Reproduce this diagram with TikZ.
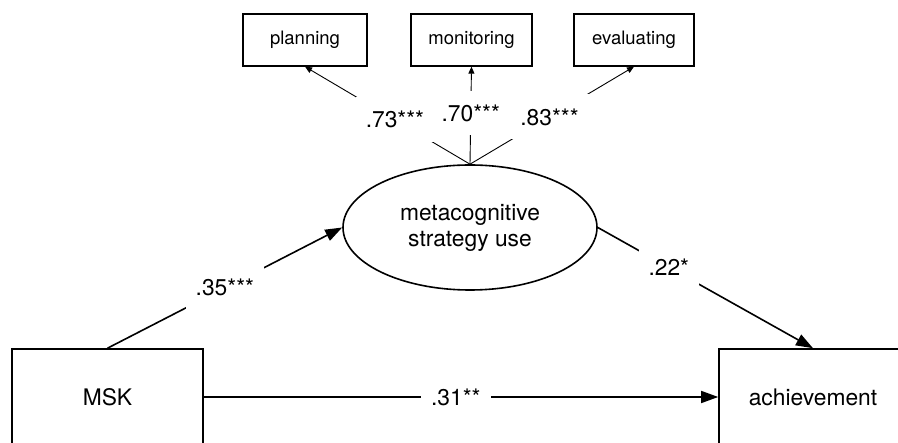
\documentclass[tikz,border=0pt]{standalone}
\usepackage{fontspec}
\setmainfont{TeX Gyre Heros}
\usetikzlibrary{arrows.meta,shapes.geometric}
\begin{document}
\begin{tikzpicture}[x=1pt,y=-1pt,
  bigbox/.style={draw,line width=1.6pt,rectangle,minimum width=#1,minimum height=96pt,inner sep=0pt,font=\fontsize{22.8}{27}\selectfont},
  smallbox/.style={draw,line width=1.3pt,rectangle,minimum width=#1,minimum height=52pt,inner sep=0pt,font=\fontsize{18.5}{22}\selectfont},
  latent/.style={ellipse,draw,line width=1.6pt,minimum width=254pt,minimum height=125pt,inner sep=0pt,align=center,font=\fontsize{22.8}{26}\selectfont},
  regpath/.style={line width=1.6pt,-{Triangle[length=17pt,width=12pt]}},
  loadpath/.style={line width=0.9pt,-{Triangle[length=7pt,width=6pt]}},
  coef/.style={fill=white,inner xsep=10pt,inner ysep=14pt,font=\fontsize{22.8}{27}\selectfont}]
\useasboundingbox (0,0) rectangle (898,443);
\clip (0,0) rectangle (898,443);

\node[smallbox=124pt] (plan) at (305,40) {planning};
\node[smallbox=121pt] (mon) at (471.5,40) {monitoring};
\node[smallbox=120pt] (eval) at (634,40) {evaluating};

\node[latent] (met) at (470,227.5) {metacognitive\\strategy use};

\node[bigbox=191pt] (msk) at (107.5,397) {MSK};
\node[bigbox=188pt] (ach) at (813,397) {achievement};

\draw[loadpath] (met.north) -- (plan.south) node[coef,pos=0.455] {.73***};
\draw[loadpath] (met.north) -- (mon.south) node[coef,pos=0.525] {.70***};
\draw[loadpath] (met.north) -- (eval.south) node[coef,pos=0.485] {.83***};

\draw[regpath] (msk.north) -- (met.west) node[coef,pos=0.5] {.35***};
\draw[regpath] (met.east) -- (ach.north) node[coef,pos=0.33] {.22*};
\draw[regpath] (msk.east) -- (ach.west) node[coef,pos=0.49] {.31**};
\end{tikzpicture}
\end{document}
